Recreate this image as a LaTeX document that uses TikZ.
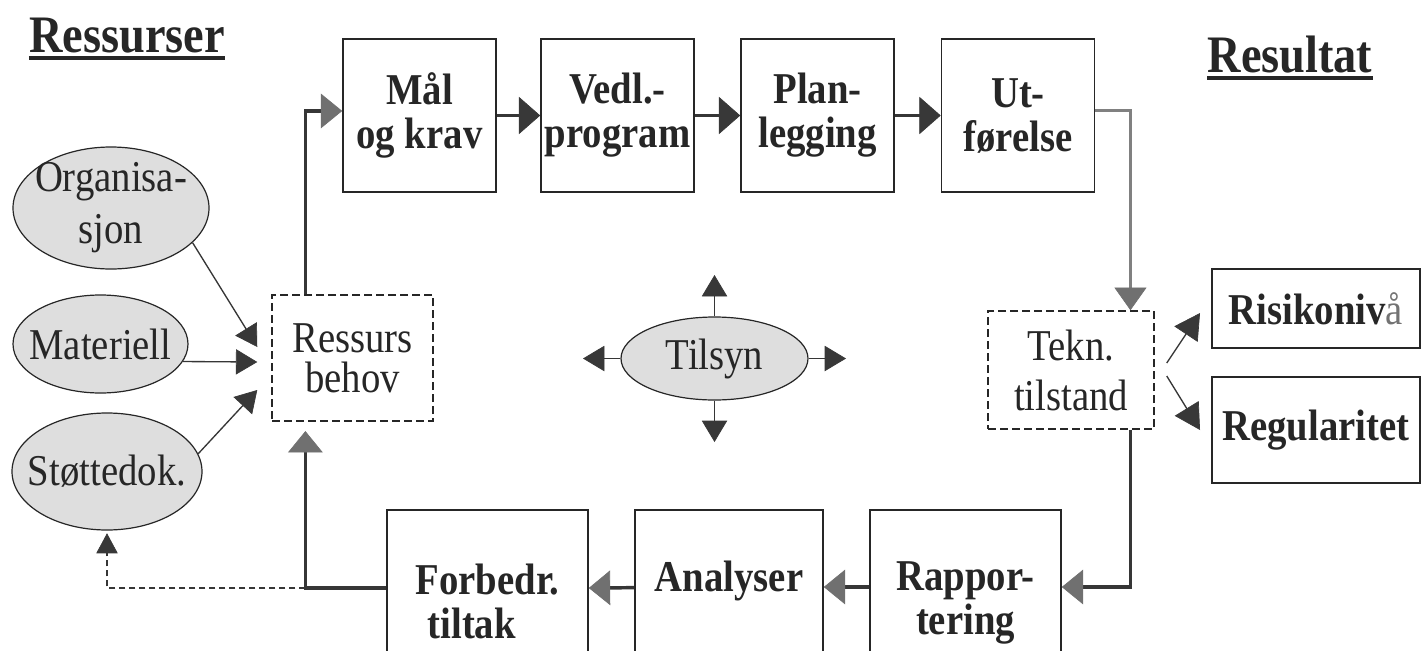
\documentclass[tikz,border=0pt]{standalone}
\usepackage{fontspec}
\setmainfont{Liberation Serif}[FakeStretch=0.88]
\usetikzlibrary{arrows.meta,shapes.geometric,calc}
\definecolor{ink}{HTML}{262626}
\definecolor{linegray}{HTML}{363636}
\definecolor{tipdark}{HTML}{383838}
\definecolor{tipmid}{HTML}{707070}
\definecolor{paleline}{HTML}{808080}
\definecolor{speckle}{HTML}{DEDEDE}
\begin{document}
\begin{tikzpicture}[x=0.75pt,y=-0.75pt,
  every node/.style={inner sep=0pt,text=ink},
  heading/.style={font=\fontsize{39.5}{44}\selectfont\bfseries,anchor=base},
  stepbox/.style={draw=ink,line width=1.2pt,fill=white,align=center,
    minimum width=114.75pt,minimum height=114.75pt,
    font=\fontsize{33}{33}\selectfont\bfseries},
  lowbox/.style={draw=ink,line width=1.2pt,fill=white,align=center,
    font=\fontsize{33}{33}\selectfont\bfseries},
  outbox/.style={draw=ink,line width=1.5pt,fill=white,minimum width=156pt,
    font=\fontsize{33}{33}\selectfont\bfseries},
  dashbox/.style={draw=ink,line width=1.1pt,dash pattern=on 6pt off 3pt,
    fill=white,align=center},
  blob/.style={ellipse,draw=ink,line width=0.9pt,fill=speckle,align=center,
    inner sep=-15pt,text=ink},
  flow/.style={line width=2.6pt,draw=linegray,
    -{Triangle[length=16pt,width=28pt,line width=0.5pt,color=tipdark]}},
  flowmid/.style={line width=2.6pt,draw=linegray,
    -{Triangle[length=16pt,width=26pt,line width=0.5pt,color=tipmid]}},
  paleflow/.style={line width=2pt,draw=paleline,
    -{Triangle[length=17pt,width=24pt,line width=0.5pt,color=tipmid]}},
  thinarrow/.style={line width=1pt,draw=linegray,
    -{Triangle[length=16pt,width=19pt,line width=0.5pt,color=tipdark]}},
  sidearrow/.style={line width=1pt,draw=linegray,
    -{Triangle[length=19pt,width=21pt,line width=0.5pt,color=tipdark]}},
  dashflow/.style={line width=0.9pt,draw=linegray,dash pattern=on 4.5pt off 3pt,
    -{Triangle[length=15pt,width=16pt,line width=0.5pt,color=tipdark]}},
]
\useasboundingbox (0,0) rectangle (1421,650);
\fill[white] (0,0) rectangle (1421,650);
\clip (0,0) rectangle (1421,650);

% headings
\node[heading] (ttlA) at (127,52) {Ressurser};
\node[heading] (ttlB) at (1290,72) {Resultat};
\draw[line width=3pt,ink] ([yshift=-4.5pt]ttlA.base west) -- ([yshift=-4.5pt]ttlA.base east);
\draw[line width=3pt,ink] ([yshift=-4.5pt]ttlB.base west) -- ([yshift=-4.5pt]ttlB.base east);

% main chain, top row
\node[stepbox] (mal) at (419.5,115.5) {Mål\\og krav};
\node[stepbox] (ved) at (617.5,115.5) {Vedl.-\\program};
\node[stepbox] (pla) at (817.5,115.5) {Plan-\\legging};
\node[stepbox] (utf) at (1018,115.5) {Ut-\\førelse};

% bottom row (runs off the lower edge)
\node[lowbox,minimum width=150.75pt,minimum height=136.5pt,align=left] (for) at (487.5,601) {Forbedr.\\\hspace*{9pt}tiltak};
\node[lowbox,minimum width=141pt,minimum height=106.5pt] (ana) at (729,581) {Analyser};
\node[lowbox,minimum width=143.25pt,minimum height=139.5pt] (rap) at (965.5,603) {Rappor-\\tering};

% intermediate states
\node[dashbox,minimum width=120.75pt,minimum height=94.5pt,
  font=\fontsize{33}{30}\selectfont] (res) at (352.5,358) {Ressurs\\behov};
\node[dashbox,minimum width=124.5pt,minimum height=88.5pt,
  font=\fontsize{33}{37.5}\selectfont] (tek) at (1071,370) {Tekn.\\tilstand};

% results
\node[outbox,minimum height=59.25pt] (risk) at (1316,308.5) {Risikoniv{\mdseries\color{black!55}å}};
\node[outbox,minimum height=79.5pt] (reg) at (1316,430) {Regularitet};

% resources
\node[blob,minimum width=147pt,minimum height=91.5pt,
  font=\fontsize{33}{39}\selectfont] (org) at (111,208) {Organisa-\\sjon};
\node[blob,minimum width=131.25pt,minimum height=73.5pt,
  font=\fontsize{33}{33}\selectfont] (mat) at (100.5,344) {Materiell};
\node[blob,minimum width=142.5pt,minimum height=87.75pt,
  font=\fontsize{33}{33}\selectfont] (sto) at (107,471.5) {Støttedok.};

% supervision in the middle
\node[blob,minimum width=140.25pt,minimum height=62.25pt,
  font=\fontsize{33}{33}\selectfont] (til) at (714.5,358.5) {Tilsyn};
\coordinate (tilN) at (714.5,275);
\coordinate (tilS) at (714.5,442);
\coordinate (tilW) at (583,358.5);
\coordinate (tilE) at (846,358.5);

% ports for the loop connectors
\coordinate (reshead) at ($(res.north west)!0.21!(res.north east)$);
\coordinate (resfoot) at ($(res.south west)!0.21!(res.south east)$);
\coordinate (malport) at ([yshift=3.4pt]mal.west);
\coordinate (utfport) at ([yshift=4pt]utf.east);
\coordinate (tekhead) at ($(tek.north west)!0.855!(tek.north east)$);
\coordinate (tekfoot) at ($(tek.south west)!0.855!(tek.south east)$);
\coordinate (rapport) at ([yshift=12pt]rap.east);
\coordinate (forport) at ([yshift=9.75pt]for.west);
\coordinate (fb) at (resfoot |- forport);

% top row flow
\draw[flowmid] (reshead) |- (malport);
\draw[flow] (mal) -- (ved);
\draw[flow] (ved) -- (pla);
\draw[flow] (pla) -- (utf);
\draw[paleflow] (utfport) -| (tekhead);

% return path
\draw[flowmid] (tekfoot) |- (rapport);
\draw[flowmid] ([yshift=12pt]rap.west) -- ([yshift=-4.5pt]ana.east);
\draw[flowmid] ([yshift=-5pt]ana.west) -- ([yshift=9.75pt]for.east);
\draw[flowmid,shorten >=7pt] (forport) -| (resfoot);
\draw[dashflow,shorten >=2pt] (fb) -| (sto.south);

% resources feeding the need
\draw[thinarrow] (org.-23) -- ([xshift=-10.5pt,yshift=8.25pt]res.west);
\draw[thinarrow] (mat.-12.5) -- ([xshift=-10.5pt,yshift=-3pt]res.west);
\draw[thinarrow] (sto.11) -- ([xshift=-10.5pt,yshift=-24pt]res.west);

% supervision arrows
\draw[thinarrow] (til.north) -- (tilN);
\draw[thinarrow] (til.south) -- (tilS);
\draw[thinarrow] (til.west) -- (tilW);
\draw[thinarrow] (til.east) -- (tilE);

% technical state to results
\draw[sidearrow] ([xshift=9pt,yshift=5.25pt]tek.east) -- ([xshift=-8.25pt,yshift=-3.4pt]risk.west);
\draw[sidearrow] ([xshift=9pt,yshift=-4.5pt]tek.east) -- ([xshift=-8.25pt]reg.west);
\end{tikzpicture}
\end{document}
